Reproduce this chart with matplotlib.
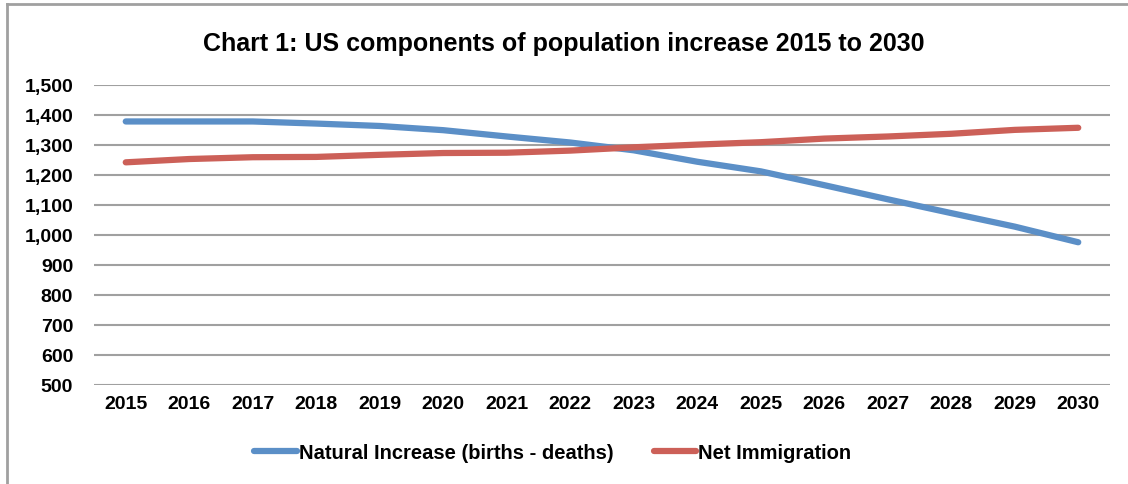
import matplotlib
matplotlib.use("Agg")
import matplotlib.pyplot as plt
from matplotlib.lines import Line2D
import numpy as np

plt.rcParams['font.family'] = ['Liberation Sans', 'DejaVu Sans']
plt.rcParams['font.weight'] = 'bold'

years = [str(y) for y in range(2015, 2031)]
natural = [1377, 1377, 1377, 1370, 1362, 1348, 1327, 1307, 1281, 1243, 1211, 1165, 1118, 1072, 1027, 975]
immigration = [1241, 1252, 1258, 1259, 1266, 1272, 1273, 1280, 1291, 1300, 1308, 1320, 1327, 1336, 1349, 1356]
yticks = list(range(500, 1501, 100))

fig = plt.figure(figsize=(11.28, 4.85), dpi=100)
ax = fig.add_axes([94 / 1128, 1 - 386 / 485, 1016 / 1128, 300.5 / 485])

x = np.arange(len(years))
ax.plot(x, natural, color='#5B8FC7', lw=4.5, solid_capstyle='round',
        label='Natural Increase (births - deaths)')
ax.plot(x, immigration, color='#CC6058', lw=4.5, solid_capstyle='round',
        label='Net Immigration')

ax.set_xlim(-0.5, len(years) - 0.5)
ax.set_ylim(500, 1500)
ax.set_yticks(yticks)
ax.set_yticklabels([f"{v:,}" for v in yticks], fontsize=14, fontweight='bold')
ax.set_xticks(x)
ax.set_xticklabels(years, fontsize=14, fontweight='bold')
ax.tick_params(length=0, pad=7)
ax.tick_params(axis='y', pad=15)
ax.grid(axis='y', color='#A0A0A0', lw=1.5)
ax.set_axisbelow(True)
for s in ax.spines.values():
    s.set_visible(False)

fig.text(0.5, 1 - 44 / 485, 'Chart 1: US components of population increase 2015 to 2030',
         ha='center', va='center', fontsize=18, fontweight='bold')

leg = fig.legend(loc='center', bbox_to_anchor=(0.49, 1 - 454 / 485), ncol=2,
                 frameon=False, fontsize=14.5, handlelength=2.1, handletextpad=0.1,
                 columnspacing=2.0)

# outer frame (top and left visible)
fig.add_artist(Line2D([7 / 1128, 7 / 1128], [0, 1 - 5 / 485], color='#A0A0A0', lw=2))
fig.add_artist(Line2D([7 / 1128, 1], [1 - 5 / 485, 1 - 5 / 485], color='#A0A0A0', lw=2))

fig.savefig('out.png', dpi=100)
